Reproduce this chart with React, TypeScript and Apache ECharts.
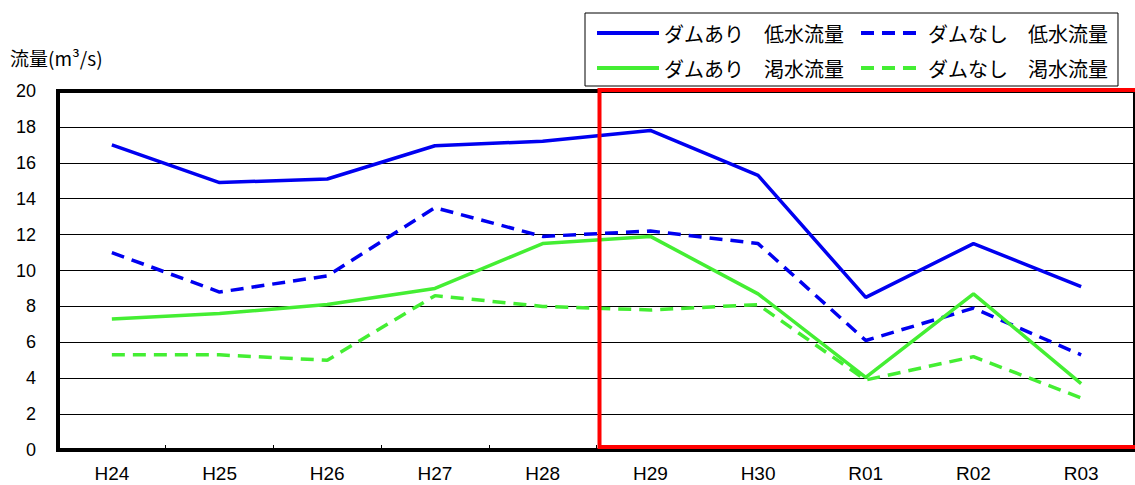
import React, { useEffect, useRef } from "react";
import * as echarts from "echarts";

const categories = ["H24", "H25", "H26", "H27", "H28", "H29", "H30", "R01", "R02", "R03"];
const damLow = [17.0, 14.9, 15.1, 16.95, 17.2, 17.8, 15.3, 8.5, 11.5, 9.1];
const noDamLow = [11.0, 8.8, 9.7, 13.5, 11.9, 12.2, 11.5, 6.1, 7.9, 5.3];
const damDrought = [7.3, 7.6, 8.1, 9.0, 11.5, 11.9, 8.7, 4.05, 8.7, 3.7];
const noDamDrought = [5.3, 5.3, 5.0, 8.6, 8.0, 7.8, 8.1, 3.9, 5.2, 2.9];
const seriesNames = [
  "ダムあり　低水流量",
  "ダムなし　低水流量",
  "ダムあり　渇水流量",
  "ダムなし　渇水流量",
];
const yMin = 0;
const yMax = 20;
const yInterval = 2;
const yAxisTitle = "流量(m³/s)";
const highlightStart = ["H28", "H29"];

const BLUE = "#0000f0";
const GREEN = "#44ee33";
const JP = "'Noto Sans CJK JP', sans-serif";
const NUM = "'Liberation Sans', Arial, sans-serif";

export default function App() {
  const ref = useRef<HTMLDivElement>(null);
  useEffect(() => {
    if (!ref.current) return;
    const chart = echarts.init(ref.current, undefined, { renderer: "svg" });
    const mk = (name: string, data: number[], color: string, dashed: boolean) => ({
      name,
      type: "line",
      data,
      symbol: "none",
      showSymbol: false,
      lineStyle: { color, width: 3.5, type: dashed ? [13, 8] : "solid" },
      itemStyle: { color },
    });
    chart.setOption({
      animation: false,
      backgroundColor: "#ffffff",
      grid: {
        left: 58,
        top: 91,
        width: 1084,
        height: 359,
        show: true,
        borderColor: "#000",
        borderWidth: 4,
        backgroundColor: "transparent",
      },
      legend: {
        left: 585,
        top: 13,
        width: 540,
        padding: [10, 10, 8, 10],
        itemGap: 15,
        itemWidth: 62,
        itemHeight: 20,
        borderColor: "#000",
        borderWidth: 1,
        backgroundColor: "#fff",
        itemStyle: { opacity: 0 },
        lineStyle: { width: 4 },
        textStyle: { fontFamily: JP, fontSize: 20, color: "#000" },
        data: seriesNames,
      },
      xAxis: {
        type: "category",
        data: categories,
        boundaryGap: true,
        axisLine: { show: false },
        axisTick: { show: true, inside: true, length: 5, lineStyle: { color: "#000", width: 1 } },
        axisLabel: { fontFamily: NUM, fontSize: 19, color: "#000", margin: 14 },
        splitLine: { show: false },
      },
      yAxis: {
        type: "value",
        min: yMin,
        max: yMax,
        interval: yInterval,
        axisLine: { show: false },
        axisTick: { show: false },
        axisLabel: { fontFamily: NUM, fontSize: 18, color: "#000", margin: 22 },
        splitLine: { show: true, lineStyle: { color: "#000", width: 1 } },
      },
      series: [
        mk(seriesNames[0], damLow, BLUE, false),
        mk(seriesNames[1], noDamLow, BLUE, true),
        mk(seriesNames[2], damDrought, GREEN, false),
        mk(seriesNames[3], noDamDrought, GREEN, true),
      ],
    });
    const xa = chart.convertToPixel({ xAxisIndex: 0 }, highlightStart[0]) as number;
    const xb = chart.convertToPixel({ xAxisIndex: 0 }, highlightStart[1]) as number;
    const yTop = chart.convertToPixel({ yAxisIndex: 0 }, yMax) as number;
    const yBot = chart.convertToPixel({ yAxisIndex: 0 }, yMin) as number;
    const xL = (xa + xb) / 2 + 3;
    chart.setOption({
      graphic: [
        {
          type: "rect",
          z: 100,
          silent: true,
          shape: { x: xL, y: yTop - 1, width: 1300 - xL, height: yBot - 3 - (yTop - 1) },
          style: { fill: "none", stroke: "#ff0000", lineWidth: 4 },
        },
        {
          type: "text",
          left: 10,
          top: 48,
          style: { text: yAxisTitle, font: `19px ${JP}`, fill: "#000" },
        },
      ],
    });
    return () => chart.dispose();
  }, []);
  return (
    <div
      ref={ref}
      style={{ position: "fixed", left: 0, top: 0, width: 1135, height: 485, background: "#fff" }}
    />
  );
}
